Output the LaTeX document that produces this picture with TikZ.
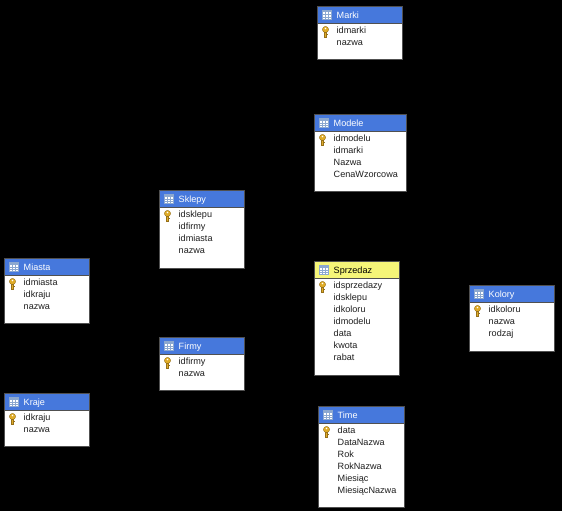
\documentclass[tikz,border=0pt]{standalone}
\usepackage{fontspec}
\setmainfont{Liberation Sans}
\definecolor{hdrblue}{HTML}{4678DC}
\definecolor{hdryellow}{HTML}{F5F578}
\definecolor{edgegray}{HTML}{505050}
\definecolor{keygold}{HTML}{E0AC28}
\definecolor{keydark}{HTML}{96701A}
\definecolor{gridblue}{HTML}{8CA8D0}
\tikzset{
  tablebox/.style={draw=edgegray,line width=1.4pt,fill=white,anchor=north west,inner sep=0pt,outer sep=0pt},
  headbox/.style={draw=edgegray,line width=1.1pt,anchor=north west,inner sep=0pt,outer sep=0pt},
  titletext/.style={anchor=base west,inner sep=0pt,font=\fontsize{9.1pt}{11pt}\selectfont},
  fieldtext/.style={anchor=base west,inner sep=0pt,text=black!88,font=\fontsize{9.1pt}{11pt}\selectfont},
}
% name, left, top, right, bottom, title, header fill, title colour, text indent
\newcommand{\dbtable}[9]{%
  \pgfmathsetmacro{\tw}{#4-#2}
  \pgfmathsetmacro{\th}{#5-#3}
  \node[tablebox,minimum width=\tw pt,minimum height=\th pt] (#1) at (#2,#3) {};
  \node[headbox,fill=#7,minimum width=\tw pt,minimum height=17pt] (#1head) at (#2,#3) {};
  % table icon
  \fill[white] (#2+5,#3+4) rectangle (#2+14,#3+13);
  \fill[gridblue] (#2+5,#3+4) rectangle (#2+14,#3+6);
  \draw[gridblue,line width=.6pt] (#2+5,#3+4) rectangle (#2+14,#3+13)
    (#2+8,#3+6) -- (#2+8,#3+13) (#2+11,#3+6) -- (#2+11,#3+13)
    (#2+5,#3+8.3) -- (#2+14,#3+8.3) (#2+5,#3+10.6) -- (#2+14,#3+10.6);
  \node[titletext,text=#8] (#1title) at (#2+#9,#3+11.8) {#6};
  % key icon
  \fill[keygold,draw=keydark,line width=.4pt] (#2+8,#3+23) circle (3.1);
  \fill[keygold,draw=keydark,line width=.4pt] (#2+7,#3+25.8) rectangle (#2+9,#3+31);
  \fill[keydark] (#2+9,#3+27.5) rectangle (#2+10.2,#3+28.6);
  \fill[white] (#2+8,#3+22) circle (.8);
  \def\thex{#2}\def\they{#3}\def\theind{#9}%
  \dbfields
}
\newcommand{\setfields}[1]{\def\dbfields{%
  \foreach \f [count=\i] in {#1} {
    \node[fieldtext] at (\thex+\theind,\they+14.8+12*\i) {\f};
  }}}
\begin{document}
\begin{tikzpicture}[x=1pt,y=-1pt]
\useasboundingbox (0,0) rectangle (562,511);
\fill[black] (0,0) rectangle (562,511);
\setfields{idmarki,nazwa}
\dbtable{marki}{317.5}{6.5}{402.5}{59.5}{Marki}{hdrblue}{white}{19}
\setfields{idmodelu,idmarki,Nazwa,CenaWzorcowa}
\dbtable{modele}{314.5}{114.5}{406.5}{191.5}{Modele}{hdrblue}{white}{19}
\setfields{idsklepu,idfirmy,idmiasta,nazwa}
\dbtable{sklepy}{159.5}{190.5}{244.5}{268.5}{Sklepy}{hdrblue}{white}{19}
\setfields{idmiasta,idkraju,nazwa}
\dbtable{miasta}{4.5}{258.5}{89.5}{323.5}{Miasta}{hdrblue}{white}{19}
\setfields{idfirmy,nazwa}
\dbtable{firmy}{159.5}{337.5}{244.5}{390.5}{Firmy}{hdrblue}{white}{19}
\setfields{idkraju,nazwa}
\dbtable{kraje}{4.5}{393.5}{89.5}{446.5}{Kraje}{hdrblue}{white}{19}
\setfields{idsprzedazy,idsklepu,idkoloru,idmodelu,data,kwota,rabat}
\dbtable{sprzedaz}{314.5}{261.5}{399.5}{375.5}{Sprzedaz}{hdryellow}{black}{19}
\setfields{idkoloru,nazwa,rodzaj}
\dbtable{kolory}{469.5}{285.5}{554.5}{351.5}{Kolory}{hdrblue}{white}{19}
\setfields{data,DataNazwa,Rok,RokNazwa,Miesiąc,MiesiącNazwa}
\dbtable{time}{318.5}{406.5}{404.5}{507.5}{Time}{hdrblue}{white}{19}
\end{tikzpicture}
\end{document}
